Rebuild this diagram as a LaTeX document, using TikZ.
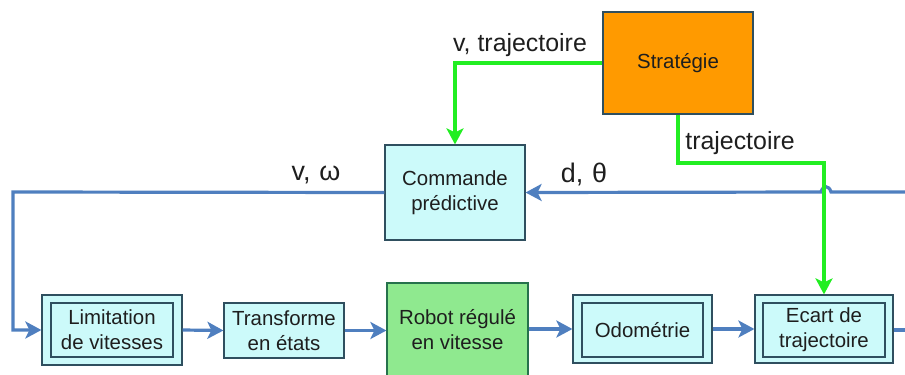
\documentclass[tikz,border=0pt]{standalone}
\usepackage{fontspec}
\setmainfont{Liberation Sans}
\usetikzlibrary{arrows.meta}
\definecolor{flowblue}{HTML}{4F7FBF}
\definecolor{sigreen}{HTML}{22EE22}
\definecolor{boxfill}{HTML}{CCFAFA}
\definecolor{boxline}{HTML}{2F4F5F}
\definecolor{robotfill}{HTML}{8FE98F}
\definecolor{stratfill}{HTML}{FF9A00}
\definecolor{txt}{HTML}{1E1E1E}
\tikzset{
  blk/.style={draw=boxline, line width=1.2bp, fill=boxfill, align=center,
    font=\fontsize{20.5}{25}\selectfont, text=txt, inner sep=0pt},
  inblk/.style={draw=boxline, line width=1.2bp, fill=boxfill, align=center,
    font=\fontsize{20.5}{25}\selectfont, text=txt, inner sep=0pt},
  tip/.style={-{Stealth[length=16bp,width=17bp,inset=4bp]}},
  flow/.style={draw=flowblue, line width=3.2bp, tip},
  sig/.style={draw=sigreen, line width=3.2bp, tip},
  lbl/.style={font=\fontsize{25}{28}\selectfont, text=txt, inner sep=0pt},
  sym/.style={font=\fontsize{27}{30}\selectfont, text=txt, inner sep=0pt, anchor=base},
}
\begin{document}
\begin{tikzpicture}[x=1bp,y=-1bp]
\useasboundingbox (0,0) rectangle (905,374);

% upper blocks
\node[blk, fill=stratfill, minimum width=150bp, minimum height=102bp] (strat) at (678,63) {Stratégie};
\node[blk, minimum width=140bp, minimum height=95bp] (cmd) at (455,192.5) {Commande\\prédictive};

% lower chain
\node[blk, minimum width=140bp, minimum height=70bp] (lim) at (112,330) {};
\node[inblk, minimum width=122bp, minimum height=54bp] (limin) at (112,330) {Limitation\\de vitesses};
\node[blk, minimum width=120bp, minimum height=55bp] (trans) at (284,330.5) {Transforme\\en états};
\node[blk, fill=robotfill, draw=boxline!80!green, minimum width=141bp, minimum height=94bp] (robot) at (457.5,330) {Robot régulé\\en vitesse};
\node[blk, minimum width=139bp, minimum height=68bp] (odo) at (642.5,329) {};
\node[inblk, minimum width=121bp, minimum height=54bp] (odoin) at (642.5,330) {Odométrie};
\node[blk, minimum width=138bp, minimum height=68bp] (ecart) at (824,329) {};
\node[inblk, minimum width=122bp, minimum height=54bp] (ecartin) at (824,330) {Ecart de\\trajectoire};

% free ends of the loop
\coordinate (inR) at (905,192);
\coordinate (outR) at (905,330);
\coordinate (loopL) at (13,192);

% feedback loop (blue)
\draw[flow] (inR) -- (831,192) .. controls (829,185) and (823,185) .. (821,192) -- (cmd.east);
\draw[flow] (cmd.west) -- (loopL) |- (lim.west);
\draw[flow] (lim.east) -- (trans.west);
\draw[flow] (trans.east) -- (robot.west |- trans.east);
\draw[flow] (robot.east |- odo.east) -- (odo.west);
\draw[flow] (odo.east) -- (ecart.west);
\draw[draw=flowblue, line width=3.2bp] (ecart.east |- outR) -- (outR);

% setpoints (green)
\draw[sig] (strat.west) -| (cmd.north);
\draw[sig] (strat.south) -- (678,163) -| (ecart.north);

% labels
\node[sym] (lvw) at (316,180) {v,\,\,ω};
\node[sym] (ldt) at (584,182) {d,\,\,θ};
\node[lbl] (lvt) at (520,45) {v, trajectoire};
\node[lbl] (ltr) at (740,143) {trajectoire};
\end{tikzpicture}
\end{document}
